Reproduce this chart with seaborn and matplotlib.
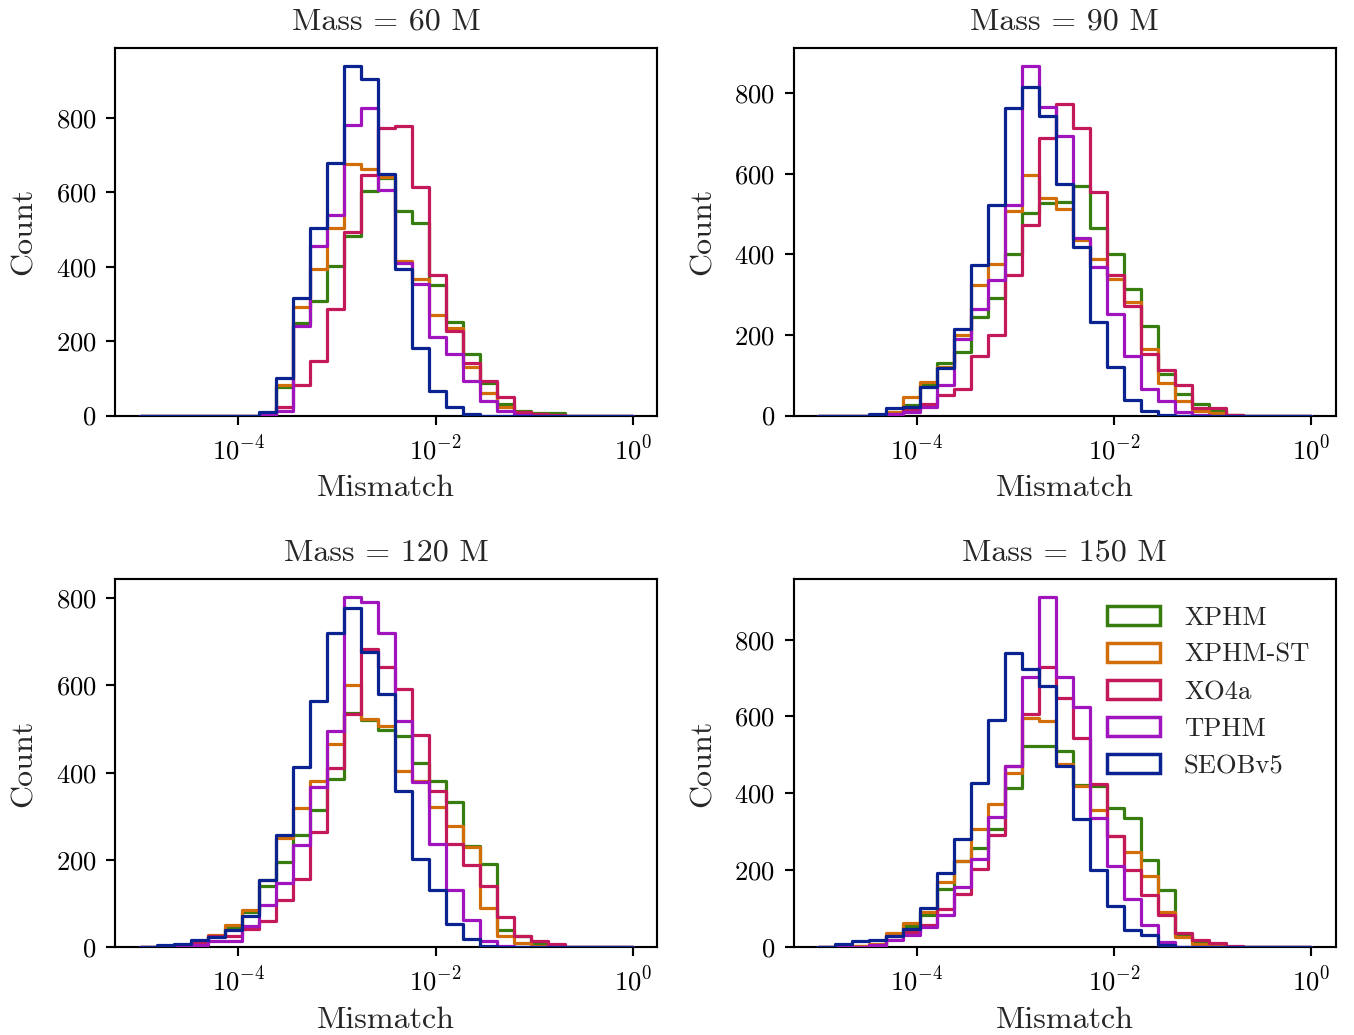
import numpy as np
import pandas as pd
import matplotlib
matplotlib.use("Agg")
import matplotlib.pyplot as plt
import matplotlib.ticker as mticker
from matplotlib.patches import Patch
import seaborn as sns

# modelos e cores
models = ["XPHM", "XPHM-ST", "XO4a", "TPHM", "SEOBv5"]
colors = ["#377d0f", "#d26e0a", "#c3195a", "#a014be", "#0a2391"]
masses = [60, 90, 120, 150]

# bordas dos bins em log10 (29 bins entre 1e-5 e 1)
log_edges = np.linspace(-5, 0, 30)

# contagens, bin a bin (29 valores)
counts_60 = {
    "XPHM":    [0, 0, 0, 0, 0, 0, 0, 3, 76, 250, 307, 403, 484, 605, 638, 551, 517, 352, 251, 166, 87, 31, 13, 8, 6, 0, 0, 0, 0],
    "XPHM-ST": [0, 0, 0, 0, 0, 0, 0, 3, 82, 292, 393, 504, 677, 664, 642, 416, 366, 270, 236, 130, 62, 24, 9, 3, 1, 0, 0, 0, 0],
    "XO4a":    [0, 0, 0, 0, 0, 0, 0, 2, 22, 82, 147, 286, 493, 646, 773, 778, 614, 378, 227, 141, 92, 51, 9, 4, 2, 0, 0, 0, 0],
    "TPHM":    [0, 0, 0, 0, 0, 0, 0, 1, 13, 241, 455, 540, 781, 826, 607, 410, 355, 211, 165, 92, 40, 13, 2, 0, 0, 0, 0, 0, 0],
    "SEOBv5":  [0, 0, 0, 0, 0, 0, 0, 10, 100, 316, 503, 680, 941, 905, 649, 395, 182, 67, 22, 4, 0, 0, 0, 0, 0, 0, 0, 0, 0],
}
counts_90 = {
    "XPHM":    [0, 0, 0, 0, 5, 27, 75, 130, 159, 244, 292, 402, 502, 527, 530, 570, 465, 400, 315, 222, 103, 53, 28, 14, 2, 0, 0, 0, 0],
    "XPHM-ST": [0, 0, 0, 0, 8, 45, 83, 120, 201, 324, 377, 508, 597, 541, 512, 435, 388, 338, 281, 165, 80, 37, 12, 6, 1, 0, 0, 0, 0],
    "XO4a":    [0, 0, 0, 0, 5, 14, 28, 51, 66, 149, 201, 350, 473, 688, 773, 713, 555, 348, 271, 154, 114, 75, 18, 18, 1, 0, 0, 0, 0],
    "TPHM":    [0, 0, 0, 0, 3, 10, 22, 75, 191, 265, 336, 522, 869, 765, 693, 440, 368, 252, 149, 66, 35, 10, 1, 0, 0, 0, 0, 0, 0],
    "SEOBv5":  [0, 0, 0, 4, 18, 22, 72, 118, 216, 373, 522, 763, 815, 744, 574, 418, 232, 120, 39, 12, 1, 0, 0, 0, 0, 0, 0, 0, 0],
}
counts_120 = {
    "XPHM":    [0, 0, 2, 12, 25, 44, 80, 140, 196, 257, 314, 386, 538, 520, 498, 485, 422, 381, 332, 232, 190, 38, 25, 8, 2, 0, 0, 0, 0],
    "XPHM-ST": [0, 0, 3, 12, 28, 50, 86, 153, 251, 318, 382, 465, 602, 523, 508, 403, 381, 322, 278, 230, 89, 25, 9, 3, 0, 0, 0, 0, 0],
    "XO4a":    [0, 0, 2, 9, 25, 25, 42, 60, 107, 157, 263, 410, 535, 684, 643, 593, 487, 359, 236, 189, 139, 70, 25, 14, 6, 0, 0, 0, 0],
    "TPHM":    [0, 0, 0, 4, 14, 14, 48, 96, 148, 234, 367, 496, 803, 791, 721, 519, 378, 236, 131, 63, 13, 2, 0, 0, 0, 0, 0, 0, 0],
    "SEOBv5":  [0, 5, 8, 15, 23, 38, 71, 153, 258, 413, 565, 721, 777, 677, 581, 359, 203, 131, 52, 18, 3, 0, 0, 0, 0, 0, 0, 0, 0],
}
counts_150 = {
    "XPHM":    [0, 0, 2, 5, 30, 55, 83, 150, 224, 257, 307, 413, 522, 524, 509, 422, 420, 363, 336, 226, 149, 28, 10, 3, 0, 0, 0, 0, 0],
    "XPHM-ST": [0, 0, 3, 7, 37, 63, 91, 170, 225, 307, 371, 452, 597, 587, 476, 419, 356, 290, 247, 184, 92, 25, 9, 2, 0, 0, 0, 0, 0],
    "XO4a":    [0, 0, 1, 4, 28, 39, 57, 100, 139, 203, 291, 470, 606, 729, 648, 543, 423, 290, 200, 136, 84, 36, 17, 10, 3, 0, 0, 0, 0],
    "TPHM":    [0, 0, 0, 4, 19, 32, 52, 84, 157, 229, 339, 470, 704, 911, 703, 624, 336, 212, 125, 57, 12, 1, 0, 0, 0, 0, 0, 0, 0],
    "SEOBv5":  [0, 7, 15, 17, 29, 48, 102, 193, 280, 428, 591, 765, 723, 680, 470, 332, 201, 107, 44, 31, 4, 0, 0, 0, 0, 0, 0, 0, 0],
}
all_counts = {60: counts_60, 90: counts_90, 120: counts_120, 150: counts_150}


def build_frame(counts):
    centers = 10 ** ((log_edges[:-1] + log_edges[1:]) / 2)
    rows = []
    for m in models:
        for x, c in zip(centers, counts[m]):
            rows.append({"Mismatch": x, "Count": c, "Modelo": m})
    return pd.DataFrame(rows)


sns.set_style("ticks")
plt.rcParams["font.family"] = ["cmr10", "DejaVu Serif"]
plt.rcParams["mathtext.fontset"] = "cm"
plt.rcParams["axes.formatter.use_mathtext"] = True
plt.rcParams["axes.unicode_minus"] = True
plt.rcParams["axes.edgecolor"] = "black"
plt.rcParams["axes.linewidth"] = 0.8
plt.rcParams["xtick.color"] = "black"
plt.rcParams["ytick.color"] = "black"

DPI = 192
fig, axs = plt.subplots(2, 2, figsize=(1354 / DPI, 1035 / DPI), dpi=DPI)
fig.subplots_adjust(left=0.085, right=0.9867, bottom=0.085, top=0.9536,
                    wspace=0.251, hspace=0.446)

for ax, mass in zip(axs.flat, masses):
    df = build_frame(all_counts[mass])
    for m, col in zip(models, colors):
        sub = df[df["Modelo"] == m]
        sns.histplot(data=sub, x="Mismatch", weights="Count", bins=list(log_edges),
                     log_scale=True, element="step", fill=False,
                     color=col, linewidth=1.2, zorder=3, ax=ax)
    ax.set_ylim(bottom=0)
    ax.set_xticks([1e-4, 1e-2, 1e0])
    ax.xaxis.set_minor_locator(mticker.NullLocator())
    ax.set_title(f"Mass = {mass} M", fontsize=12, pad=7)
    ax.set_xlabel("Mismatch", fontsize=12)
    ax.set_ylabel("Count", fontsize=12, labelpad=6.5)
    ax.tick_params(labelsize=10, width=0.8, length=3.5, pad=3.5)

handles = [Patch(facecolor="none", edgecolor=c, linewidth=1.3, label=m)
           for m, c in zip(models, colors)]
axs[1, 1].legend(handles=handles, loc="upper right", frameon=False, fontsize=10,
                 borderaxespad=0.6, handletextpad=0.9)

plt.savefig("out.png", dpi=DPI)
